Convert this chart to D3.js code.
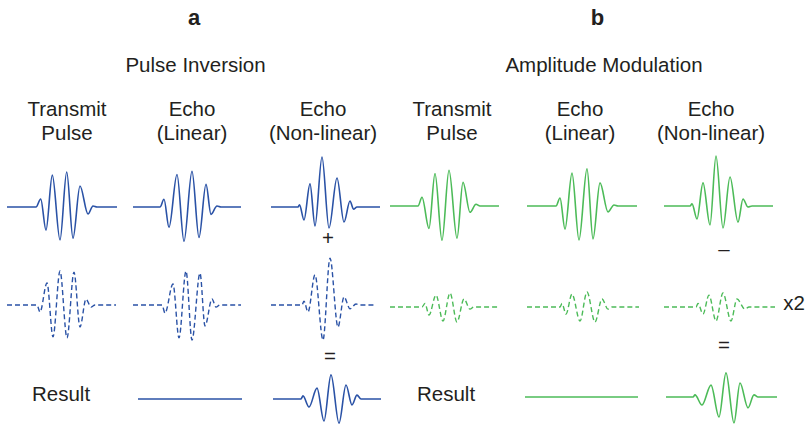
<!DOCTYPE html>
<html>
<head>
<meta charset="utf-8">
<script src="https://cdn.jsdelivr.net/npm/d3@7/dist/d3.min.js"></script>
<style>
	body { margin: 0; background: #fff; }
	text { font-family: "Liberation Sans", Arial, Helvetica, sans-serif; fill: #231f20; }
</style>
</head>
<body>
<svg id="svgChart" width="807" height="426"></svg>
<script>
// Waveform samples: [time, amplitude]
// amplitude is relative to the transmit pulse peak

// a - Pulse Inversion
var piTransmit = [[0,0],[29,0],[33.7,0.23],[39,-0.66],[45.3,0.91],[53,-0.94],[59.7,1.0],[66,-0.89],[73,0.6],[81,-0.2],[86,0.03],[90,0],[110,0]];
var piEchoLin = [[0,0],[27,0],[31,0.22],[36,-0.58],[44,0.93],[51,-0.98],[59,1.02],[66,-0.87],[73,0.65],[78,-0.21],[84,0.03],[88,0],[108,0]];
var piEchoNonLin = [[0,0],[27,0],[28.5,0.06],[33,-0.37],[39,0.66],[44,-0.54],[51,1.43],[58,-0.6],[66,0.83],[73,-0.43],[79,0.17],[82.5,-0.06],[86,0],[109,0]];
var piTransmitInv = [[0,0],[30,0],[33,-0.2],[40,0.63],[46,-0.91],[53,0.97],[60,-0.94],[67,0.94],[73,-0.63],[79,0.17],[84,-0.06],[88,0],[109,0]];
var piEchoLinInv = [[0,0],[29,0],[32,-0.23],[40,0.6],[46,-0.94],[53,0.97],[59,-1.0],[67,0.91],[72,-0.6],[79,0.17],[83,-0.06],[87,0],[108,0]];
var piEchoNonLinInv = [[0,0],[31,0],[33,0.11],[37,-0.2],[44,0.86],[52,-1.0],[59,1.34],[67,-0.63],[73,0.23],[79,-0.11],[85,0.03],[89,0],[105,0]];
var piResultLin = [[0,0],[104,0]];
var piResultNonLin = [[0,0],[28,0],[30,0.09],[36,-0.23],[44,0.31],[51,-0.63],[58,0.69],[66,-0.69],[73,0.4],[79,-0.17],[84,0.11],[88,0],[108,0]];

// b - Amplitude Modulation
var amTransmit = [[0,0],[28,0],[32,0.25],[39,-0.64],[45,0.93],[52,-0.98],[59,1.02],[67,-0.92],[73,0.68],[80,-0.18],[86,0.05],[90,0],[109,0]];
var amEchoLin = [[0,0],[29,0],[33,0.23],[38,-0.66],[45,0.94],[52,-0.97],[60,1.06],[66,-0.94],[73,0.66],[81,-0.17],[87,0.03],[91,0],[110,0]];
var amEchoNonLin = [[0,0],[26,0],[28,0.06],[33,-0.37],[39,0.66],[46,-0.54],[52,1.43],[59,-0.63],[66,0.83],[74,-0.46],[79,0.2],[84,-0.03],[88,0],[109,0]];
var amTransmitHalf = [[0,0],[32,0],[35,0.1],[39,-0.23],[46,0.34],[53,-0.4],[60,0.4],[67,-0.43],[74,0.23],[80,-0.06],[84,0],[110,0]];
var amEchoLinHalf = [[0,0],[33,0],[35,0.1],[39,-0.2],[45,0.37],[53,-0.4],[60,0.43],[68,-0.43],[75,0.23],[81,-0.06],[85,0],[112,0]];
var amEchoNonLinHalf = [[0,0],[32,0],[34,0.1],[39,-0.2],[45,0.34],[52,-0.4],[59,0.4],[67,-0.4],[73,0.23],[81,-0.06],[85,0],[111,0]];
var amResultLin = [[0,0],[113,0]];
var amResultNonLin = [[0,0],[27,0],[29,0.06],[36,-0.23],[45,0.34],[53,-0.57],[60,0.69],[68,-0.74],[74,0.4],[82,-0.31],[88,0.06],[92,0],[111,0]];

// Labels
var panelLetters = ["a", "b"];
var panelTitles = ["Pulse Inversion", "Amplitude Modulation"];
var columnTitles = [["Transmit", "Pulse"], ["Echo", "(Linear)"], ["Echo", "(Non-linear)"]];
var operators = [["+", "="], ["–", "="]];

var blue = "#2a52a6",
	green = "#4cbb58";

var svg = d3.select("#svgChart");
var ampPx = 35;

// Layout of the two panels
var panels = [
	{
		colX: [7, 133, 271], rowY: [207, 305, 399], color: blue,
		textX: [67, 192, 323], letterX: 194, titleX: 195.5,
		resultX: 138,
		waves: [[piTransmit, piEchoLin, piEchoNonLin], [piTransmitInv, piEchoLinInv, piEchoNonLinInv]],
		results: [piResultLin, piResultNonLin],
		opPos: [[328, 245], [330, 363]],
		resultLabelX: 32
	},
	{
		colX: [390, 527, 664], rowY: [206, 307, 397], color: green,
		textX: [452, 580, 711], letterX: 597.5, titleX: 604,
		resultX: 525,
		waves: [[amTransmit, amEchoLin, amEchoNonLin], [amTransmitHalf, amEchoLinHalf, amEchoNonLinHalf]],
		results: [amResultLin, amResultNonLin],
		opPos: [[724, 256], [724, 352]],
		resultLabelX: 417
	}
];

// Draw one waveform at a cell origin
var drawWave = (data, x0, baseline, color, dashed) => {
	let tMax = d3.max(data, d => d[0]);
	let x = d3.scaleLinear().domain([0, tMax]).range([x0, x0 + tMax]),
		y = d3.scaleLinear().domain([-1, 1]).range([baseline + ampPx, baseline - ampPx]);

	let line = d3.line()
		.x(d => x(d[0]))
		.y(d => y(d[1]))
		.curve(d3.curveMonotoneX);

	svg.append("path")
		.datum(data)
		.attr("d", line)
		.attr("fill", "none")
		.attr("stroke", color)
		.attr("stroke-width", dashed ? 1.4 : 1.6)
		.attr("stroke-dasharray", dashed ? "5,3" : null);
}

panels.forEach((p, pi) => {
	// Panel letter and title
	svg.append("text")
		.attr("x", p.letterX).attr("y", 25)
		.attr("text-anchor", "middle")
		.style("font-size", "22px").style("font-weight", "bold")
		.text(panelLetters[pi]);

	svg.append("text")
		.attr("x", p.titleX).attr("y", 72)
		.attr("text-anchor", "middle")
		.style("font-size", "20.5px")
		.text(panelTitles[pi]);

	// Column headers
	columnTitles.forEach((lines, ci) => {
		lines.forEach((s, li) => {
			svg.append("text")
				.attr("x", p.textX[ci]).attr("y", 116 + li * 24)
				.attr("text-anchor", "middle")
				.style("font-size", "20.5px")
				.text(s);
		});
	});

	// Pulse rows
	p.waves.forEach((row, ri) => {
		row.forEach((w, ci) => drawWave(w, p.colX[ci], p.rowY[ri], p.color, ri == 1));
	});

	// Result row
	drawWave(p.results[0], p.resultX, p.rowY[2], p.color, false);
	drawWave(p.results[1], p.colX[2] + 2, p.rowY[2], p.color, false);

	svg.append("text")
		.attr("x", p.resultLabelX).attr("y", 401)
		.style("font-size", "20.5px")
		.text("Result");

	// Operators
	operators[pi].forEach((op, oi) => {
		svg.append("text")
			.attr("x", p.opPos[oi][0]).attr("y", p.opPos[oi][1])
			.attr("text-anchor", "middle")
			.style("font-size", "20.5px")
			.text(op);
	});
});

// Scaling factor for amplitude modulation
svg.append("text")
	.attr("x", 794).attr("y", 310)
	.attr("text-anchor", "middle")
	.style("font-size", "20.5px")
	.text("x2");
</script>
</body>
</html>
